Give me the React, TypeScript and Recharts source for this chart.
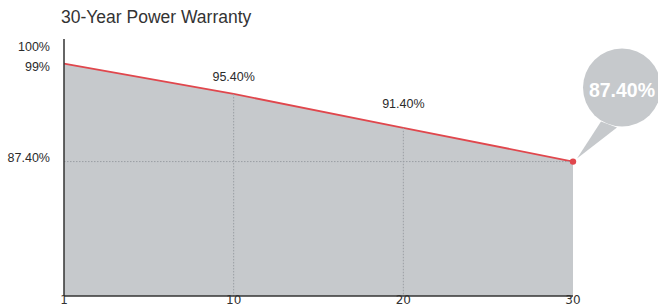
import { Area, AreaChart, LabelList, ReferenceLine, XAxis, YAxis } from "recharts";

const years = ["1", "10", "20", "30"];
const warranty = [99, 95.4, 91.4, 87.4];
const yTicks = [100, 99, 87.4];
const yTickLabels = ["100%", "99%", "87.40%"];
const pointLabels = ["", "95.40%", "91.40%", "87.40%"];

const data = years.map((year, i) => ({ year, value: warranty[i] }));

const GREY = "#c6c9cc";
const RED = "#e0474d";
const TEXT = "#2b2b2b";
const FONT = "'Liberation Sans', Arial, sans-serif";

function YTick(props: any) {
  const { x, y, payload } = props;
  const i = yTicks.indexOf(payload.value);
  // the artwork nudges the top two labels apart
  const dy = i === 0 ? -9 : i === 1 ? 3 : -4;
  return (
    <text x={x - 14} y={y + dy + 4.5} textAnchor="end" fontSize={12.5} fill={TEXT} fontFamily={FONT}>
      {yTickLabels[i]}
    </text>
  );
}

function XTick(props: any) {
  const { x, y, payload } = props;
  return (
    <text x={x} y={y + 8} textAnchor="middle" fontSize={12} fill="#333" fontFamily="'DejaVu Sans', Verdana, sans-serif">
      {payload.value}
    </text>
  );
}

function PointLabel(props: any) {
  const { x, y, index } = props;
  if (index === 0) return null;
  if (index === pointLabels.length - 1) {
    const cx = x + 49;
    const cy = y - 74;
    return (
      <g>
        <path
          d={`M${x + 4},${y - 3} L${x + 28},${y - 40} L${x + 44},${y - 34} Z`}
          fill={GREY}
        />
        <circle cx={cx} cy={cy} r={39} fill={GREY} />
        <text
          x={cx}
          y={cy + 9}
          textAnchor="middle"
          fontSize={19.5}
          fontWeight="bold"
          fill="#fff"
          fontFamily={FONT}
        >
          {pointLabels[index]}
        </text>
      </g>
    );
  }
  const lift = index === 1 ? 13 : 20;
  return (
    <text x={x} y={y - lift} textAnchor="middle" fontSize={12.5} fill={TEXT} fontFamily={FONT}>
      {pointLabels[index]}
    </text>
  );
}

function EndDot(props: any) {
  const { cx, cy, index } = props;
  if (index !== data.length - 1) return <g key={index} />;
  return <circle key={index} cx={cx} cy={cy} r={3.2} fill={RED} />;
}

export default function App() {
  const yMin = 71.5;
  return (
    <div style={{ position: "absolute", left: 0, top: 0, width: 658, height: 307, background: "#fff" }}>
      <div
        style={{
          position: "absolute",
          left: 61,
          top: 7,
          fontFamily: FONT,
          fontSize: 17.5,
          lineHeight: "20px",
          color: "#333",
          whiteSpace: "nowrap",
        }}
      >
        30-Year Power Warranty
      </div>
      <AreaChart
        width={658}
        height={307}
        data={data}
        margin={{ top: 39, right: 85, left: 0, bottom: 0 }}
        style={{ position: "absolute", left: 0, top: 0 }}
      >
        <XAxis
          dataKey="year"
          height={11}
          tickSize={0}
          tickMargin={0}
          tickLine={false}
          axisLine={{ stroke: "#333", strokeWidth: 1.5 }}
          tick={<XTick />}
          interval={0}
        />
        <YAxis
          type="number"
          domain={[yMin, 101.9]}
          ticks={yTicks}
          width={64}
          tickSize={0}
          tickMargin={0}
          tickLine={false}
          axisLine={{ stroke: "#333", strokeWidth: 1.5 }}
          tick={<YTick />}
          interval={0}
        />
        <Area
          type="linear"
          dataKey="value"
          stroke={RED}
          strokeWidth={1.8}
          fill={GREY}
          fillOpacity={1}
          dot={<EndDot />}
          activeDot={false}
          isAnimationActive={false}
        >
          <LabelList dataKey="value" content={<PointLabel />} />
        </Area>
        <ReferenceLine y={87.4} stroke="#9a9ea3" strokeDasharray="1.5 1.5" />
        <ReferenceLine
          segment={[
            { x: "10", y: 95.4 },
            { x: "10", y: yMin },
          ]}
          stroke="#9a9ea3"
          strokeDasharray="1.5 1.5"
        />
        <ReferenceLine
          segment={[
            { x: "20", y: 91.4 },
            { x: "20", y: yMin },
          ]}
          stroke="#9a9ea3"
          strokeDasharray="1.5 1.5"
        />
      </AreaChart>
    </div>
  );
}
